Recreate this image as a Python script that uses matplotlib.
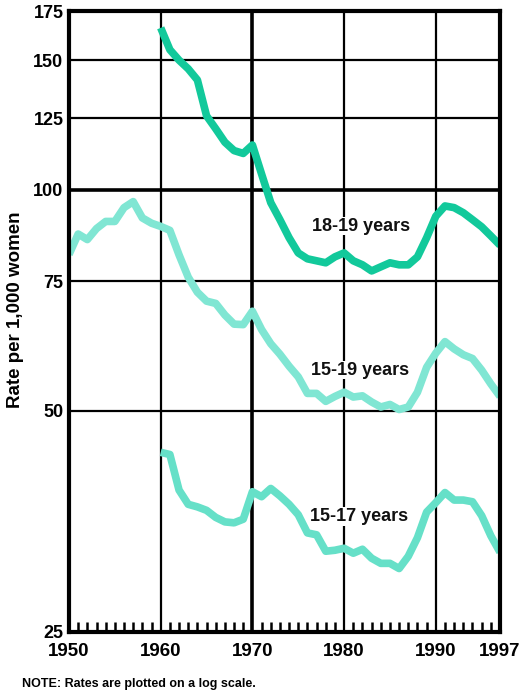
import numpy as np
import matplotlib
matplotlib.use("Agg")
import matplotlib.pyplot as plt
from matplotlib.ticker import FixedLocator, NullFormatter, NullLocator

# ---- data (births per 1,000 women) ----
years_1519 = list(range(1950, 1998))
rate_1519 = [81.6, 87.0, 85.5, 88.5, 90.5, 90.5, 94.5, 96.3, 91.5, 90.0,
             89.1, 88.0, 81.5, 76.0, 72.5, 70.5, 70.0, 67.5, 65.6, 65.5,
             68.3, 64.5, 61.7, 59.7, 57.5, 55.6, 52.8, 52.8, 51.5, 52.3,
             53.0, 52.2, 52.4, 51.4, 50.6, 51.0, 50.2, 50.6, 53.0, 57.3,
             59.9, 62.1, 60.7, 59.6, 58.9, 56.8, 54.4, 52.3]

years_1819 = list(range(1960, 1998))
rate_1819 = [166.0, 155.0, 150.0, 146.0, 141.0, 126.0, 121.0, 116.0, 113.0, 112.0,
             115.0, 105.0, 96.0, 91.0, 86.0, 82.0, 80.5, 80.0, 79.5, 81.0,
             82.0, 80.0, 79.0, 77.5, 78.5, 79.5, 79.0, 79.0, 81.0, 86.0,
             92.0, 95.0, 94.5, 93.0, 91.0, 89.0, 86.5, 84.0]

years_1517 = list(range(1960, 1998))
rate_1517 = [43.9, 43.6, 39.0, 37.3, 37.0, 36.6, 35.8, 35.3, 35.2, 35.6,
             38.8, 38.2, 39.2, 38.3, 37.3, 36.1, 34.1, 33.9, 32.2, 32.3,
             32.5, 32.0, 32.4, 31.5, 31.0, 31.0, 30.5, 31.7, 33.6, 36.4,
             37.5, 38.7, 37.8, 37.8, 37.6, 36.0, 33.8, 32.1]

y_ticks = [25, 50, 75, 100, 125, 150, 175]
x_ticks = [1950, 1960, 1970, 1980, 1990, 1997]
series_labels = ["18-19 years", "15-19 years", "15-17 years"]

# ---- figure ----
plt.rcParams['font.family'] = ['Liberation Sans', 'DejaVu Sans']
fig = plt.figure(figsize=(5.21, 6.95), dpi=100)
W, H = 521, 695
ax = fig.add_axes([69 / W, 1 - 632 / H, (500 - 69) / W, (632 - 11) / H])

c1819 = "#12C99B"
c1519 = "#80E6D3"
c1517 = "#66E0C8"

ax.set_yscale("log")
ax.set_ylim(25, 175)
ax.set_xlim(1950, 1997)

# grid lines
for yv in [50, 75, 100, 125, 150]:
    ax.axhline(yv, color="black", lw=2.6 if yv == 100 else 1.6, zorder=1)
for xv in [1960, 1970, 1980, 1990]:
    ax.axvline(xv, color="black", lw=2.6 if xv == 1970 else 1.6, zorder=1)

lw = 5.5
for xs, ys, c in [(years_1519, rate_1519, c1519),
                  (years_1517, rate_1517, c1517),
                  (years_1819, rate_1819, c1819)]:
    ax.plot(xs, ys, color=c, lw=lw, solid_joinstyle="round",
            solid_capstyle="butt", zorder=3)

txt_kw = dict(fontsize=13, fontweight="bold", ha="center", va="center",
              color="#111111", zorder=4,
              bbox=dict(facecolor="white", edgecolor="none", pad=0.5))
ax.text(1981.8, 89.2, series_labels[0], **txt_kw)
ax.text(1981.7, 56.8, series_labels[1], **txt_kw)
ax.text(1981.6, 35.9, series_labels[2], **txt_kw)

# ticks
ax.yaxis.set_major_locator(FixedLocator(y_ticks))
ax.yaxis.set_minor_locator(NullLocator())
ax.yaxis.set_minor_formatter(NullFormatter())
ax.set_yticklabels([str(v) for v in y_ticks])
ax.tick_params(axis="y", length=0, pad=4, labelsize=13)

ax.set_xticks(x_ticks)
ax.set_xticklabels([str(v) for v in x_ticks])
ax.tick_params(axis="x", which="major", length=0, pad=8, labelsize=13.5)
ax.set_xticks(list(range(1951, 1997)), minor=True)
ax.tick_params(axis="x", which="minor", direction="in", length=7, width=1.8,
               color="black")
for lab in ax.get_xticklabels() + ax.get_yticklabels():
    lab.set_fontweight("bold")

for s in ax.spines.values():
    s.set_linewidth(3)
    s.set_color("black")
    s.set_zorder(5)

ax.set_ylabel("Rate per 1,000 women", fontsize=13.5, fontweight="bold")
ax.yaxis.set_label_coords(-0.104, 0.519)

fig.text(22 / W, 1 - 684 / H, "NOTE: Rates are plotted on a log scale.",
         fontsize=9, fontweight="bold", ha="left", va="center")

fig.savefig("out.png", dpi=100, facecolor="white")
